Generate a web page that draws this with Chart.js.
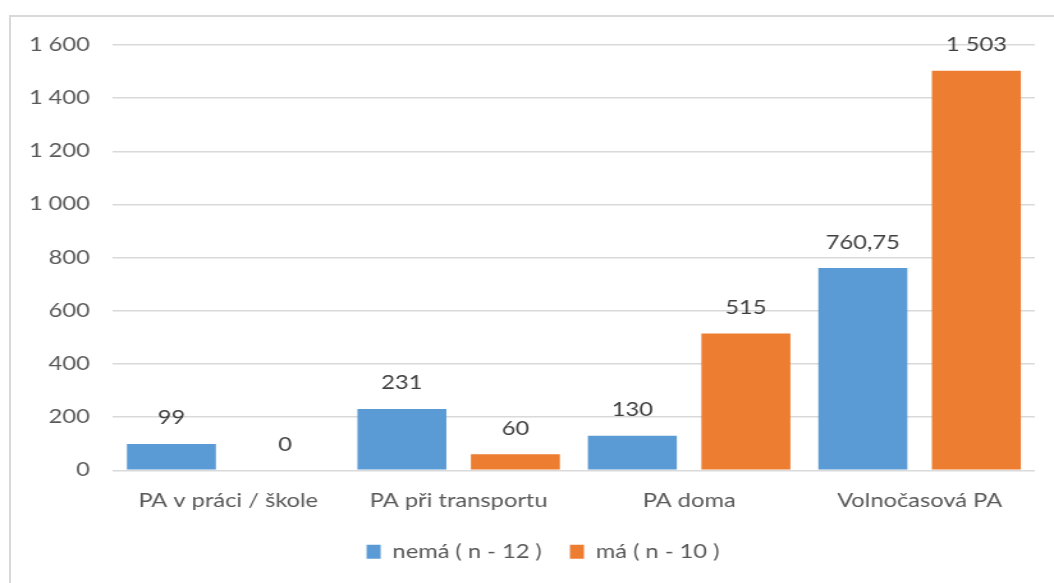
<!DOCTYPE html>
<html lang="cs">
<head>
<meta charset="utf-8">
<title>Pohybová aktivita</title>
<script src="https://cdn.jsdelivr.net/npm/chart.js@4/dist/chart.umd.min.js"></script>
<style>
  html, body { margin: 0; padding: 0; background: #fff; overflow: hidden; }
  body { width: 1054px; height: 583px; position: relative; }
  #frame {
    position: absolute; left: 9px; top: 15px; width: 1100px; height: 700px;
    border: 2px solid #d9d9d9; box-sizing: border-box; pointer-events: none;
  }
  /* the drawing is laid out narrower and widened horizontally */
  #wrap {
    position: absolute; left: 0; top: 0; width: 824px; height: 583px;
    transform: scaleX(1.27913); transform-origin: 0 0;
  }
</style>
</head>
<body>
<div id="wrap"><canvas id="chart"></canvas></div>
<div id="frame"></div>
<script>
const categories = ['PA v práci / škole', 'PA při transportu', 'PA doma', 'Volnočasová PA'];
const seriesNames = ['nemá ( n - 12 )', 'má ( n - 10 )'];
const nemaValues = [99, 231, 130, 760.75];
const maValues = [0, 60, 515, 1503];
const yTicks = [0, 200, 400, 600, 800, 1000, 1200, 1400, 1600];

const FONT = 'Lato, "Open Sans", sans-serif';
const FONT_SIZE = 18.5;

// Czech number style: space as thousands separator, comma for decimals
function fmt(v) {
  const parts = String(v).split('.');
  const intPart = parts[0].replace(/\B(?=(\d{3})+(?!\d))/g, ' ');
  return parts.length > 1 ? intPart + ',' + parts[1] : intPart;
}

const valueLabels = {
  id: 'valueLabels',
  afterDatasetsDraw(chart) {
    const ctx = chart.ctx;
    ctx.save();
    ctx.font = FONT_SIZE + 'px ' + FONT;
    ctx.fillStyle = '#404040';
    ctx.textAlign = 'center';
    ctx.textBaseline = 'middle';
    chart.data.datasets.forEach((ds, i) => {
      chart.getDatasetMeta(i).data.forEach((bar, j) => {
        ctx.fillText(fmt(ds.data[j]), bar.x, bar.y - 25.5);
      });
    });
    ctx.restore();
  }
};

// centre the legend under the whole frame and lift it a little
const legendPlacement = {
  id: 'legendPlacement',
  afterLayout(chart) {
    const lg = chart.legend;
    if (!lg) return;
    lg.left = 40;
    lg.top -= 12;
    lg.bottom -= 12;
  }
};

new Chart(document.getElementById('chart'), {
  type: 'bar',
  data: {
    labels: categories,
    datasets: [
      { label: seriesNames[0], data: nemaValues, backgroundColor: '#5B9BD5' },
      { label: seriesNames[1], data: maValues, backgroundColor: '#ED7D31' }
    ]
  },
  options: {
    responsive: true,
    maintainAspectRatio: false,
    animation: false,
    devicePixelRatio: 1,
    layout: { padding: { left: 0, right: 15, top: 45, bottom: 0 } },
    datasets: { bar: { categoryPercentage: 0.985, barPercentage: 0.784 } },
    plugins: {
      tooltip: { enabled: false },
      legend: {
        position: 'bottom',
        labels: {
          color: '#595959',
          font: { family: FONT, size: FONT_SIZE },
          boxWidth: 11,
          boxHeight: 14,
          padding: 22
        }
      }
    },
    scales: {
      x: {
        grid: { display: false, drawTicks: false },
        border: { display: false },
        ticks: { color: '#595959', font: { family: FONT, size: FONT_SIZE }, padding: 20 }
      },
      y: {
        min: 0,
        max: 1600,
        afterBuildTicks(scale) { scale.ticks = yTicks.map(v => ({ value: v })); },
        afterFit(scale) { scale.width = 88.3; },
        grid: { color: '#d9d9d9', lineWidth: 1.5, drawTicks: false },
        border: { display: false },
        ticks: {
          color: '#595959',
          font: { family: FONT, size: FONT_SIZE },
          padding: 18,
          callback: v => fmt(v)
        }
      }
    }
  },
  plugins: [valueLabels, legendPlacement]
});
</script>
</body>
</html>
